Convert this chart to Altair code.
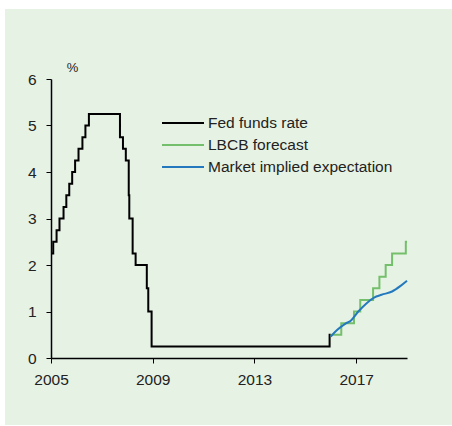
import altair as alt
import pandas as pd

# ---- data ----
fed_dates = ["2005-01-01", "2005-02-02", "2005-03-22", "2005-05-03", "2005-06-30",
             "2005-08-09", "2005-09-20", "2005-11-01", "2005-12-13", "2006-01-31",
             "2006-03-28", "2006-05-10", "2006-06-29", "2007-09-18", "2007-10-31",
             "2007-12-11", "2008-01-22", "2008-01-30", "2008-03-18", "2008-04-30",
             "2008-10-08", "2008-10-29", "2008-12-16", "2015-12-16", "2016-01-01"]
fed_rates = [2.25, 2.5, 2.75, 3.0, 3.25,
             3.5, 3.75, 4.0, 4.25, 4.5,
             4.75, 5.0, 5.25, 4.75, 4.5,
             4.25, 3.5, 3.0, 2.25, 2.0,
             1.5, 1.0, 0.25, 0.5, 0.5]

lbcb_dates = ["2016-01-01", "2016-06-01", "2016-12-01", "2017-03-01", "2017-09-01",
              "2017-12-01", "2018-03-01", "2018-06-01", "2018-12-15", "2019-01-01"]
lbcb_rates = [0.5, 0.75, 1.0, 1.25, 1.5, 1.75, 2.0, 2.25, 2.5, 2.5]

mkt_dates = ["2016-01-01", "2016-04-01", "2016-08-01", "2016-10-15", "2017-02-01",
             "2017-06-01", "2017-09-15", "2018-01-01", "2018-06-01", "2018-10-01",
             "2019-01-01"]
mkt_rates = [0.46, 0.60, 0.74, 0.80, 1.0, 1.18, 1.30, 1.36, 1.43, 1.55, 1.66]

series_names = ["Fed funds rate", "LBCB forecast", "Market implied expectation"]
series_colors = ["#000000", "#74BF6B", "#2479BE"]

x_ticks = [2005, 2009, 2013, 2017]
y_ticks = [0, 1, 2, 3, 4, 5, 6]

BG = "#E6F2E4"
TXT = "#222222"
FONT = "Liberation Sans"


def decimal_year(dates):
    d = pd.to_datetime(pd.Series(dates))
    start = pd.to_datetime(d.dt.year.astype(str) + "-01-01")
    end = pd.to_datetime((d.dt.year + 1).astype(str) + "-01-01")
    return d.dt.year + (d - start) / (end - start)


def frame(dates, rates, name):
    return pd.DataFrame({"t": decimal_year(dates), "rate": rates, "series": name})


fed_df = frame(fed_dates, fed_rates, series_names[0])
lbcb_df = frame(lbcb_dates, lbcb_rates, series_names[1])
mkt_df = frame(mkt_dates, mkt_rates, series_names[2])

x_enc = alt.X("t:Q", scale=alt.Scale(domain=[2005, 2019], nice=False, zero=False),
              axis=alt.Axis(values=x_ticks, format="d", title=None, grid=False,
                            tickSize=5, labelPadding=9, domainWidth=1.5, zindex=1,
                            labelFlush=False, labelOverlap=False))
y_enc = alt.Y("rate:Q", scale=alt.Scale(domain=[0, 6], nice=False),
              axis=alt.Axis(values=y_ticks, format="d", grid=False, tickSize=5,
                            labelPadding=10, domainWidth=1.5, zindex=1,
                            labelFlush=False, labelOverlap=False,
                            title="%", titleAngle=0, titleX=21, titleY=-12,
                            titleAlign="center", titleBaseline="middle",
                            titleFontSize=13, titleFontWeight="normal"))
color_enc = alt.Color("series:N",
                      scale=alt.Scale(domain=series_names, range=series_colors),
                      legend=alt.Legend(orient="none", legendX=111, legendY=36,
                                        title=None, direction="vertical",
                                        symbolType="M-3,0H3", symbolSize=196,
                                        symbolStrokeWidth=2, symbolOffset=13,
                                        labelOffset=17, rowPadding=5, padding=0,
                                        labelFontSize=15.5, labelFont=FONT,
                                        labelColor=TXT, labelLimit=400))

panel = alt.Chart(alt.Data(values=[{"k": 1}])).mark_rect(color=BG).encode(
    x=alt.value(-46), x2=alt.value(401), y=alt.value(-70), y2=alt.value(346))

fed = alt.Chart(fed_df).mark_line(interpolate="step-after", strokeWidth=2).encode(
    x=x_enc, y=y_enc, color=color_enc)
lbcb = alt.Chart(lbcb_df).mark_line(interpolate="step-after", strokeWidth=2).encode(
    x=x_enc, y=y_enc, color=color_enc)
mkt = alt.Chart(mkt_df).mark_line(interpolate="monotone", strokeWidth=2).encode(
    x=x_enc, y=y_enc, color=color_enc)

chart = alt.layer(panel, fed, lbcb, mkt).properties(
    width=356, height=279,
    autosize=alt.AutoSizeParams(type="none"),
    padding={"left": 51, "top": 79, "right": 45, "bottom": 68},
    background="white",
).configure_view(stroke=None).configure_axis(
    labelFont=FONT, labelFontSize=15.5, labelColor=TXT, titleFont=FONT,
    titleColor=TXT, domainColor="#000000", tickColor="#000000",
)

chart.save("out.html", embed_options={"renderer": "svg", "actions": False})
